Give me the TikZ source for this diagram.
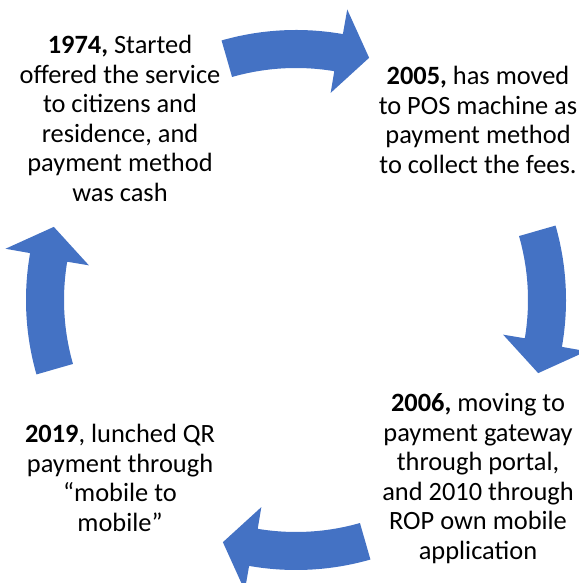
\documentclass[tikz,border=0pt]{standalone}
\usepackage{fontspec}
\setmainfont{Carlito}
\usepackage{tikz}
\definecolor{cycleblue}{HTML}{4472C4}

\begin{document}
\begin{tikzpicture}[x=1pt,y=1pt]
\tikzset{
	event node/.style = {align = center, anchor = base, inner sep = 0, font = \fontsize{26.4}{29.5}\selectfont},
	cycle arrow/.style = {fill = cycleblue, draw = none}
}
\useasboundingbox (0,0) rectangle (578,583);
\coordinate (c) at (296,283);

\node(1974)[event node] at (120,381.5) {\textbf{1974,} Started\\offered the service\\to citizens and\\residence, and\\payment method\\was cash};
\node(2005)[event node] at (478,409.5) {\textbf{2005,} has moved\\to POS machine as\\payment method\\to collect the fees.};
\node(2006)[event node] at (478,23.8) {\textbf{2006,} moving to\\payment gateway\\through portal,\\and 2010 through\\ROP own mobile\\application};
\node(2019)[event node] at (120,51.5) {\textbf{2019}, lunched QR\\payment through\\“mobile to\\mobile”};

\fill[cycle arrow, shift={(c)}] (106:270) arc[start angle=106, end angle=80, radius=270] -- (80:295) -- (73.2:253) -- (80.5:210) -- (80.5:232) arc[start angle=80.5, end angle=106, radius=232] -- cycle;
\fill[cycle arrow, shift={(c)}, rotate=-90] (106:270) arc[start angle=106, end angle=80, radius=270] -- (80:295) -- (73.2:253) -- (80.5:210) -- (80.5:232) arc[start angle=80.5, end angle=106, radius=232] -- cycle;
\fill[cycle arrow, shift={(c)}, rotate=-180] (106:270) arc[start angle=106, end angle=80, radius=270] -- (80:295) -- (73.2:253) -- (80.5:210) -- (80.5:232) arc[start angle=80.5, end angle=106, radius=232] -- cycle;
\fill[cycle arrow, shift={(c)}, rotate=90] (106:270) arc[start angle=106, end angle=80, radius=270] -- (80:295) -- (73.2:253) -- (80.5:210) -- (80.5:232) arc[start angle=80.5, end angle=106, radius=232] -- cycle;
\end{tikzpicture}
\end{document}
